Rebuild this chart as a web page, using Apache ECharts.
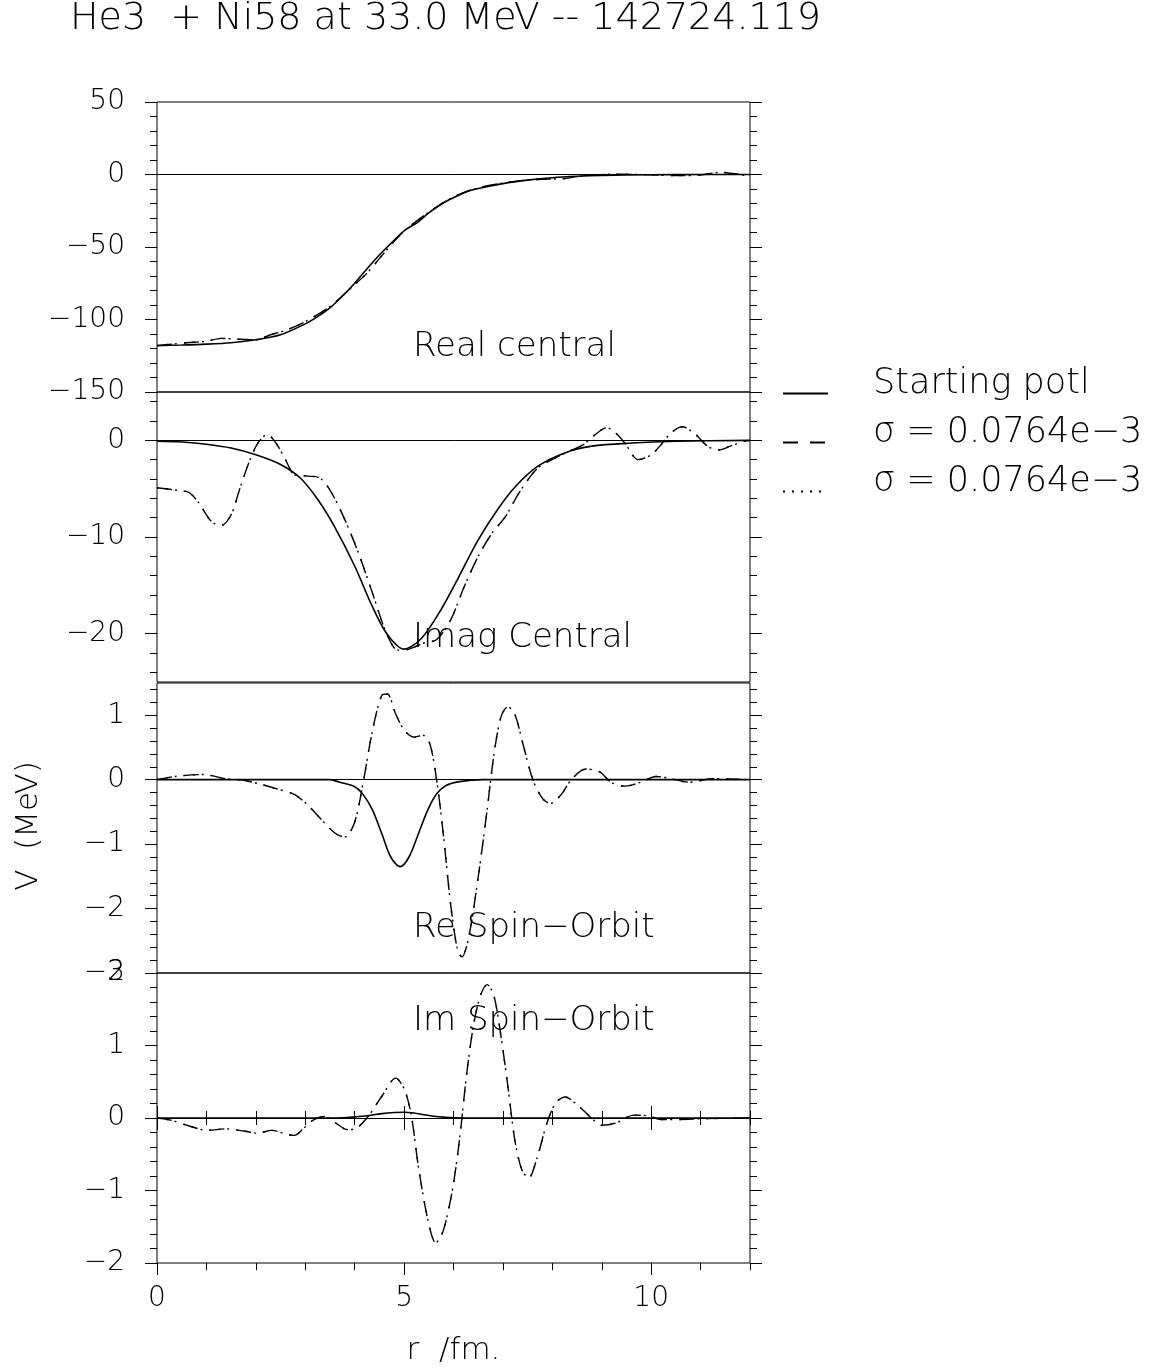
<!DOCTYPE html>
<html>
<head>
<meta charset="utf-8">
<title>He3 + Ni58 potentials</title>
<script src="https://cdn.jsdelivr.net/npm/echarts@6.0.0/dist/echarts.min.js"></script>
<style>
  html, body { margin: 0; padding: 0; background: #fff; }
  #main { width: 1156px; height: 1368px; }
</style>
</head>
<body>
<div id="main"></div>
<script>
// values, r in fm, V in MeV

// Real central
const realStartR = [0, 0.5, 1, 1.5, 2, 2.5, 3, 3.25, 3.5, 3.75, 4, 4.25, 4.5, 4.75, 5, 5.25, 5.5, 5.75, 6, 6.25, 6.5, 7, 7.5, 8, 8.5, 9, 10, 11, 12];
const realStartV = [-118, -117.6, -117, -116, -114, -110.5, -103, -98, -92, -84, -75, -65, -55.5, -47, -38.8, -33.5, -26.5, -20.5, -16, -12, -9.7, -6.3, -3.9, -2.2, -1.2, -0.6, -0.15, -0.04, 0];
const realFitR = [0, 0.3, 0.6, 1.0, 1.3, 1.6, 2.0, 2.3, 2.6, 3.0, 3.5, 4.0, 4.25, 4.5, 4.75, 5.0, 5.5, 6.0, 6.5, 7.0, 7.5, 7.9, 8.2, 8.5, 8.8, 9.2, 9.6, 10.0, 10.5, 11.0, 11.4, 11.7, 12];
const realFitV = [-118, -117, -116, -115, -113, -113.5, -114, -110.5, -107.5, -101.5, -91, -76, -68, -58, -48, -39, -26, -15.5, -9.2, -5.9, -3.8, -3.2, -3, -1.5, -0.5, 0.2, 0.1, -0.2, -0.8, -0.3, 1.5, 0.5, -1.2];

// Imag central
const imagStartR = [0, 0.5, 1, 1.5, 2, 2.5, 2.9, 3.25, 3.6, 4, 4.35, 4.65, 5, 5.35, 5.75, 6.1, 6.5, 6.9, 7.25, 7.7, 8.25, 8.8, 9.6, 10.5, 12];
const imagStartV = [-0.1, -0.18, -0.4, -0.8, -1.5, -2.5, -3.9, -6.1, -9.0, -13, -17.1, -20, -21.6, -20.5, -17.5, -14.2, -10.3, -7.1, -4.8, -2.7, -1.3, -0.6, -0.28, -0.1, 0];
const imagFitR = [0, 0.45, 0.65, 0.85, 1.1, 1.3, 1.5, 1.67, 1.86, 2.04, 2.23, 2.41, 2.6, 2.78, 3.06, 3.3, 3.53, 3.8, 4.08, 4.36, 4.64, 4.87, 5.1, 5.38, 5.66, 5.94, 6.22, 6.5, 6.78, 7.05, 7.33, 7.7, 8.07, 8.35, 8.63, 8.82, 9.1, 9.28, 9.47, 9.74, 10.0, 10.2, 10.4, 10.63, 10.9, 11.14, 11.37, 11.6, 11.88, 12];
const imagFitV = [-4.9, -5.2, -5.4, -6.5, -8.4, -8.8, -7.7, -5.1, -2.3, -0.3, 0.6, -0.3, -2.0, -3.55, -3.7, -3.9, -5.4, -8.2, -11.7, -15.8, -19.9, -21.7, -21.6, -21, -20.6, -18.6, -15.1, -12, -9.6, -7.9, -5.4, -2.9, -1.8, -1.1, -0.45, 0.4, 1.3, 0.76, -0.3, -2.0, -1.5, -0.45, 0.76, 1.4, 0.6, -0.6, -1.0, -0.6, -0.1, 0];

// Re spin-orbit
const reSoStartR = [0, 3.5, 3.7, 4.0, 4.18, 4.36, 4.55, 4.73, 4.92, 5.1, 5.29, 5.48, 5.66, 5.85, 6.12, 6.6, 12];
const reSoStartV = [0, 0, -0.04, -0.11, -0.24, -0.47, -0.84, -1.2, -1.35, -1.2, -0.84, -0.47, -0.22, -0.09, -0.03, 0, 0];
const reSoFitR = [0, 0.37, 0.93, 1.39, 1.76, 2.04, 2.41, 2.78, 3.06, 3.34, 3.62, 3.8, 4.0, 4.18, 4.36, 4.55, 4.66, 4.83, 5.01, 5.2, 5.38, 5.52, 5.66, 5.8, 5.94, 6.08, 6.17, 6.31, 6.5, 6.68, 6.82, 6.96, 7.1, 7.24, 7.42, 7.61, 7.8, 7.96, 8.17, 8.4, 8.68, 8.96, 9.19, 9.47, 9.79, 10.1, 10.4, 10.77, 11.23, 12];
const reSoFitV = [0, 0.05, 0.08, 0.015, -0.01, -0.06, -0.14, -0.23, -0.4, -0.63, -0.84, -0.89, -0.66, -0.01, 0.76, 1.31, 1.33, 1.02, 0.76, 0.66, 0.69, 0.56, -0.01, -0.89, -1.92, -2.64, -2.75, -2.44, -1.51, -0.47, 0.4, 0.97, 1.13, 1.02, 0.51, -0.01, -0.29, -0.37, -0.24, 0.015, 0.165, 0.12, -0.04, -0.1, -0.04, 0.05, 0.015, -0.04, 0.015, 0];

// Im spin-orbit
const imSoStartR = [0, 3.6, 4.0, 4.3, 4.55, 4.8, 5.0, 5.2, 5.4, 5.6, 5.8, 6.2, 12];
const imSoStartV = [0, 0, 0.015, 0.035, 0.06, 0.075, 0.08, 0.07, 0.045, 0.025, 0.012, 0, 0];
const imSoFitR = [0, 0.28, 0.65, 1.02, 1.39, 1.76, 2.04, 2.32, 2.6, 2.78, 2.97, 3.16, 3.39, 3.62, 3.85, 4.04, 4.27, 4.55, 4.83, 5.01, 5.15, 5.29, 5.48, 5.64, 5.8, 5.99, 6.13, 6.26, 6.4, 6.54, 6.68, 6.82, 6.96, 7.1, 7.24, 7.38, 7.52, 7.7, 7.89, 8.07, 8.26, 8.54, 8.82, 9.0, 9.28, 9.65, 9.93, 10.2, 10.58, 11.04, 12];
const imSoFitV = [0, -0.03, -0.11, -0.17, -0.15, -0.18, -0.21, -0.17, -0.22, -0.24, -0.14, -0.03, 0.02, -0.07, -0.16, -0.14, 0.02, 0.3, 0.55, 0.39, 0.02, -0.67, -1.4, -1.72, -1.54, -0.94, -0.25, 0.57, 1.26, 1.68, 1.84, 1.68, 1.13, 0.44, -0.3, -0.71, -0.83, -0.53, -0.07, 0.21, 0.29, 0.16, -0.02, -0.1, -0.07, 0.04, 0.03, -0.02, -0.02, -0.01, 0];

// tick values per panel (major ones are labelled)
const panelNames = ['Real central', 'Imag Central', 'Re Spin\u2212Orbit', 'Im Spin\u2212Orbit'];
const panelRange = [[-150, 50], [-25, 5], [-3, 1.5], [-2, 2]];
const panelMajor = [[-150, -100, -50, 0, 50], [-20, -10, 0], [-3, -2, -1, 0, 1], [-2, -1, 0, 1, 2]];
const panelMinor = [
  [-140, -130, -120, -110, -90, -80, -70, -60, -40, -30, -20, -10, 10, 20, 30, 40],
  [-24, -22, -18, -16, -14, -12, -8, -6, -4, -2, 2, 4],
  [-2.8, -2.6, -2.4, -2.2, -1.8, -1.6, -1.4, -1.2, -0.8, -0.6, -0.4, -0.2, 0.2, 0.4, 0.6, 0.8, 1.2, 1.4],
  [-1.8, -1.6, -1.4, -1.2, -0.8, -0.6, -0.4, -0.2, 0.2, 0.4, 0.6, 0.8, 1.2, 1.4, 1.6, 1.8]
];
const rMajor = [0, 5, 10];
const rTicks = [0, 1, 2, 3, 4, 5, 6, 7, 8, 9, 10, 11, 12];

const legendKeys = ['start', 'fitDash', 'fitDot'];
const legendText = ['Starting potl', '\u03c3 = 0.0764e\u22123', '\u03c3 = 0.0764e\u22123'];

const FONT = 'DejaVu Sans';
const WEIGHT = 200;
const ink = '#000';
const panelTop = [102, 392, 683, 973];
const panelLabelY = [347, 638, 928, 1021];

function minusFmt(v) {
  return String(v).replace('-', '\u2212');
}

const grids = panelTop.map(function (t) {
  return {
    left: 157, top: t, width: 593, height: 290,
    show: true, borderColor: ink, borderWidth: 1, backgroundColor: 'transparent',
    outerBoundsMode: 'none'
  };
});

// four y axes per panel: long and short ticks, on both sides
const yAxes = [];
panelRange.forEach(function (rg, g) {
  ['left', 'right'].forEach(function (pos) {
    const base = {
      type: 'value', gridIndex: g, position: pos, min: rg[0], max: rg[1],
      axisLine: { show: false, onZero: false }, splitLine: { show: false }
    };
    yAxes.push(Object.assign({}, base, {
      axisTick: { show: true, length: 12, customValues: panelMajor[g], lineStyle: { color: ink, width: 1 } },
      axisLabel: pos === 'left'
        ? { show: true, customValues: panelMajor[g], margin: 32, fontSize: 28, fontWeight: WEIGHT, color: ink, fontFamily: FONT, formatter: minusFmt }
        : { show: false }
    }));
    yAxes.push(Object.assign({}, base, {
      axisTick: { show: true, length: 7, customValues: panelMinor[g], lineStyle: { color: ink, width: 1 } },
      axisLabel: { show: false }
    }));
  });
});

const xAxes = [];
for (let g = 0; g < 3; g++) {
  xAxes.push({ type: 'value', gridIndex: g, min: 0, max: 12, show: false });
}
xAxes.push({
  type: 'value', gridIndex: 3, position: 'bottom', min: 0, max: 12,
  axisLine: { show: false, onZero: false }, splitLine: { show: false },
  axisTick: { show: true, length: 12, customValues: rMajor, lineStyle: { color: ink } },
  axisLabel: { customValues: rMajor, margin: 22, fontSize: 28, fontWeight: WEIGHT, color: ink, fontFamily: FONT },
  name: 'r  /fm.', nameLocation: 'middle', nameGap: 72,
  nameTextStyle: { fontSize: 31, fontWeight: WEIGHT, color: ink, fontFamily: FONT }
});
xAxes.push({
  type: 'value', gridIndex: 3, position: 'bottom', min: 0, max: 12,
  axisLine: { show: false, onZero: false }, splitLine: { show: false },
  axisTick: { show: true, length: 7, customValues: rTicks, lineStyle: { color: ink } },
  axisLabel: { show: false }
});
// ticks crossing the zero line of the last panel
[[rTicks, 7], [rMajor, 12]].forEach(function (tk) {
  [false, true].forEach(function (inside) {
    xAxes.push({
      type: 'value', gridIndex: 3, position: 'top', min: 0, max: 12,
      axisLine: { show: false, onZero: true, onZeroAxisIndex: 12 }, splitLine: { show: false },
      axisTick: { show: true, inside: inside, length: tk[1], customValues: tk[0], lineStyle: { color: ink } },
      axisLabel: { show: false }
    });
  });
});

function pairs(xs, ys) {
  return xs.map(function (x, i) { return [x, ys[i]]; });
}

const curves = [
  [realStartR, realStartV, realFitR, realFitV],
  [imagStartR, imagStartV, imagFitR, imagFitV],
  [reSoStartR, reSoStartV, reSoFitR, reSoFitV],
  [imSoStartR, imSoStartV, imSoFitR, imSoFitV]
];

const series = [];
curves.forEach(function (c, g) {
  const axes = { xAxisIndex: g < 3 ? g : 3, yAxisIndex: g * 4 };
  series.push(Object.assign({
    name: legendKeys[0], type: 'line', data: pairs(c[0], c[1]),
    symbol: 'none', smooth: 0.3, itemStyle: { color: ink },
    lineStyle: { color: ink, width: 1.6, type: 'solid' },
    markLine: {
      silent: true, symbol: 'none', label: { show: false },
      lineStyle: { color: ink, width: 1, type: 'solid' },
      data: [{ yAxis: 0 }]
    }
  }, axes));
  series.push(Object.assign({
    name: legendKeys[1], type: 'line', data: pairs(c[2], c[3]),
    symbol: 'none', smooth: 0.3, itemStyle: { color: ink },
    lineStyle: { color: ink, width: 1.4, type: [15, 12] }
  }, axes));
  series.push(Object.assign({
    name: legendKeys[2], type: 'line', data: pairs(c[2], c[3]),
    symbol: 'none', smooth: 0.3, itemStyle: { color: ink },
    lineStyle: { color: ink, width: 1.4, type: [2, 7] }
  }, axes));
});

const graphics = panelNames.map(function (n, i) {
  return {
    type: 'text', x: 413, y: panelLabelY[i], silent: true,
    style: { text: n, fontSize: 34, fontWeight: WEIGHT, fontFamily: FONT, fill: ink, align: 'left', verticalAlign: 'middle' }
  };
});
graphics.push({
  type: 'text', x: 29, y: 826, rotation: Math.PI / 2, silent: true,
  style: { text: 'V  (MeV)', fontSize: 31, fontWeight: WEIGHT, fontFamily: FONT, fill: ink, align: 'center', verticalAlign: 'middle' }
});

const chart = echarts.init(document.getElementById('main'), null, { renderer: 'canvas' });
chart.setOption({
  backgroundColor: '#fff',
  animation: false,
  title: {
    text: 'He3  + Ni58 at 33.0 MeV -- 142724.119',
    left: 70, top: 0, padding: 0,
    textStyle: { fontSize: 38, fontWeight: WEIGHT, color: ink, fontFamily: FONT }
  },
  legend: {
    orient: 'vertical', left: 782, top: 366, padding: 0, itemGap: -6,
    itemWidth: 45, itemHeight: 14, selectedMode: false,
    data: legendKeys,
    // trailing empty line lifts the text so the key line sits at its baseline
    formatter: function (name) { return legendText[legendKeys.indexOf(name)] + '\n'; },
    itemStyle: { opacity: 0 },
    textStyle: { fontSize: 35, lineHeight: 20, fontWeight: WEIGHT, padding: [0, 0, 0, 40], color: ink, fontFamily: FONT }
  },
  grid: grids,
  xAxis: xAxes,
  yAxis: yAxes,
  series: series,
  graphic: graphics
});
</script>
</body>
</html>
